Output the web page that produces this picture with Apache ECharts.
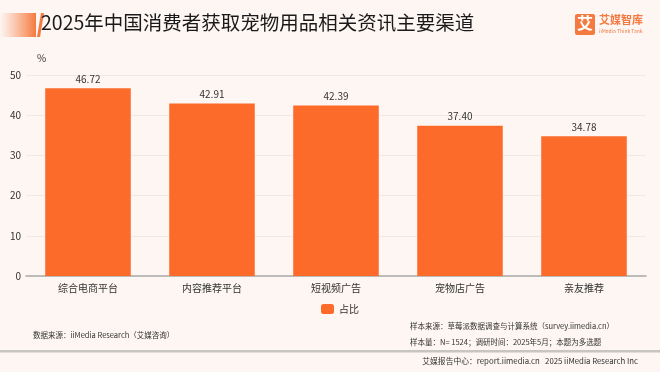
<!DOCTYPE html>
<html><head><meta charset="utf-8">
<script src="https://cdn.jsdelivr.net/npm/echarts@6/dist/echarts.min.js"></script>
<style>html,body{margin:0;padding:0;background:#fdf6f3}#c{width:660px;height:372px}</style>
</head><body><div id="c"></div>
<script>
const categories = ['综合电商平台','内容推荐平台','短视频广告','宠物店广告','亲友推荐'];
const values = [46.72, 42.91, 42.39, 37.40, 34.78];
const seriesName = '占比';
const yTicks = [0, 10, 20, 30, 40, 50];
const titleText = '2025年中国消费者获取宠物用品相关资讯主要渠道';
const F = '"Noto Sans CJK SC", "Noto Sans", sans-serif';
const chart = echarts.init(document.getElementById('c'), null, {renderer:'canvas'});
chart.setOption({
  backgroundColor: '#fdf6f3',
  animation: false,
  grid: {left: 26, right: 14, top: 75, bottom: 96, containLabel: false},
  xAxis: {
    type: 'category', data: categories,
    axisLine: {lineStyle: {color: '#aaa', width: 1.5}},
    axisTick: {show: false},
    axisLabel: {color: '#333', fontSize: 10, fontFamily: F, margin: 7}
  },
  yAxis: {
    type: 'value', min: yTicks[0], max: yTicks[yTicks.length-1], interval: 10,
    axisLine: {show: false}, axisTick: {show: false},
    axisLabel: {color: '#333', fontSize: 10, fontFamily: F, margin: 5},
    splitLine: {lineStyle: {color: '#efe9e6', width: 1}}
  },
  legend: {
    data: [seriesName], bottom: 53, left: 316,
    itemWidth: 13, itemHeight: 10, itemGap: 4,
    icon: 'roundRect',
    textStyle: {color: '#333', fontSize: 10, fontFamily: F}
  },
  series: [{
    name: seriesName, type: 'bar', data: values, barWidth: '69%',
    itemStyle: {color: '#fd6b2b'},
    label: {show: true, position: 'top', color: '#333', fontSize: 10, fontFamily: F, distance: 4,
      formatter: p => p.value.toFixed(2)}
  }],
  graphic: [
    {type: 'rect', shape: {x: 0, y: 13, width: 36, height: 24},
      style: {fill: new echarts.graphic.LinearGradient(0,0,1,0,[{offset:0,color:'rgba(250,140,90,0)'},{offset:1,color:'#f47a40'}])}},
    {type: 'polygon', shape: {points: [[37,37],[40,37],[44,13],[41,13]]}, style: {fill: '#f47a40'}},
    {type: 'text', left: 41, top: 13, style: {text: titleText, fontSize: 19.5, fill: '#1a1a1a', fontFamily: F}},
    {type: 'rect', shape: {x: 575, y: 14, width: 20, height: 21, r: 2}, style: {fill: '#f47a40'}},
    {type: 'text', left: 577, top: 15, style: {text: '艾', fontSize: 16, fill: '#fff', fontWeight: 'bold', fontFamily: F}},
    {type: 'text', left: 599, top: 14, style: {text: '艾媒智库', fontSize: 11, fill: '#f47a40', fontWeight: 'bold', fontFamily: F}},
    {type: 'text', left: 599, top: 29, style: {text: 'iiMedia Think Tank', fontSize: 5, fill: '#f47a40', fontFamily: F}},
    {type: 'text', left: 37, top: 53, style: {text: '%', fontSize: 10, fill: '#333', fontFamily: F}},
    {type: 'text', left: 33, top: 331, style: {text: '数据来源：iiMedia Research（艾媒咨询）', fontSize: 7.5, fill: '#333', fontFamily: F}},
    {type: 'text', left: 410, top: 322, style: {text: '样本来源：草莓派数据调查与计算系统（survey.iimedia.cn）', fontSize: 7.5, fill: '#333', fontFamily: F}},
    {type: 'text', left: 410, top: 338, style: {text: '样本量：N= 1524；调研时间：2025年5月；本题为多选题', fontSize: 7.5, fill: '#333', fontFamily: F}},
    {type: 'rect', shape: {x: 0, y: 350, width: 660, height: 2.5}, style: {fill: '#c8c4c2'}},
    {type: 'text', right: 22, top: 357, style: {text: '艾媒报告中心：report.iimedia.cn   2025 iiMedia Research Inc', fontSize: 7.8, fill: '#333', fontFamily: F}}
  ]
});
</script></body></html>
